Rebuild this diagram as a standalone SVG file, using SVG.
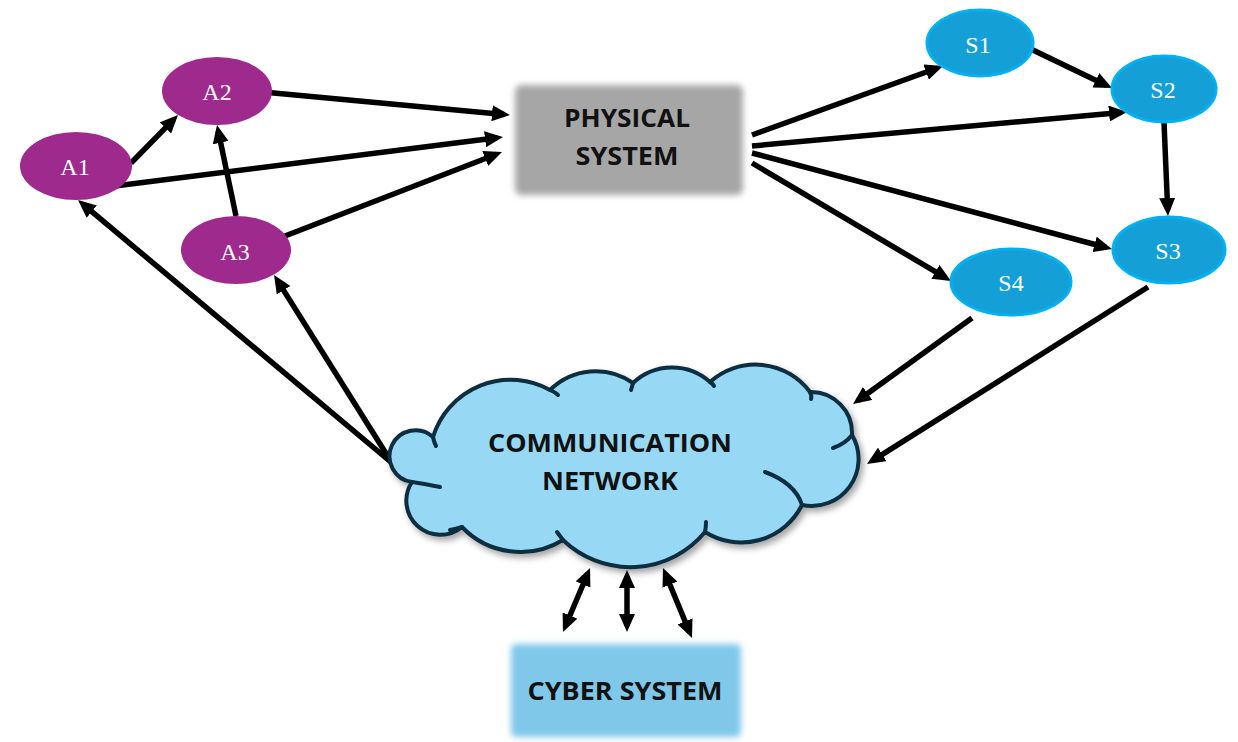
<svg xmlns="http://www.w3.org/2000/svg" width="1238" height="742" viewBox="0 0 1238 742">
  <style>
    .a-node { fill: #9E2A8E; }
    .s-node { fill: #14A0D6; stroke: #00B0F0; stroke-width: 3; }
    .node-label { font-family: "Liberation Serif", "Times New Roman", serif; font-size: 24px; fill: #ffffff; text-anchor: middle; }
    .box-label { font-family: "Open Sans", "Liberation Sans", sans-serif; font-weight: bold; font-size: 25px; fill: #111111; text-anchor: middle; }
    .edge { stroke: #000000; stroke-width: 5.5; fill: none; marker-end: url(#arrow); }
    .edge2 { stroke: #000000; stroke-width: 5.5; fill: none; marker-end: url(#arrow); marker-start: url(#arrow); }
    .cloud-line { fill: none; stroke: #0D2E40; stroke-width: 4; stroke-linecap: round; }
  </style>
  <defs>
    <marker id="arrow" markerUnits="userSpaceOnUse" markerWidth="18" markerHeight="16" refX="12" refY="8" orient="auto-start-reverse">
      <path d="M0,0 L18,8 L0,16 z" fill="#000000"/>
    </marker>
    <filter id="soft" x="-10%" y="-20%" width="120%" height="140%">
      <feGaussianBlur stdDeviation="3"/>
    </filter>
    <filter id="shadow" x="-10%" y="-10%" width="120%" height="130%">
      <feDropShadow dx="3" dy="4" stdDeviation="3" flood-color="#000000" flood-opacity="0.35"/>
    </filter>
  </defs>

  <rect width="1238" height="742" fill="#ffffff"/>

  <!-- connectors -->
  <g id="connectors">
    <line class="edge" x1="131" y1="163" x2="173.8" y2="119.3"/>
    <line class="edge" x1="91" y1="189" x2="497" y2="137.8"/>
    <line class="edge" x1="236" y1="216" x2="218.2" y2="130.9"/>
    <line class="edge" x1="263" y1="92" x2="504" y2="114.4"/>
    <line class="edge" x1="272" y1="241" x2="496.4" y2="154.2"/>
    <line class="edge" x1="392" y1="463" x2="82.6" y2="203.9"/>
    <line class="edge" x1="392" y1="463" x2="277.2" y2="280.1"/>
    <line class="edge" x1="752" y1="135" x2="937.4" y2="68"/>
    <line class="edge" x1="752" y1="146" x2="1121" y2="112.5"/>
    <line class="edge" x1="1008" y1="38" x2="1106.6" y2="85.4"/>
    <line class="edge" x1="1164" y1="122" x2="1167.7" y2="210"/>
    <line class="edge" x1="752" y1="153" x2="1106.2" y2="247.5"/>
    <line class="edge" x1="752" y1="163" x2="945.8" y2="277.9"/>
    <line class="edge" x1="972" y1="318" x2="857.9" y2="400.5"/>
    <line class="edge" x1="1148" y1="287" x2="872.1" y2="460.8"/>
    <line class="edge2" x1="587.7" y1="573.5" x2="565.3" y2="626.5"/>
    <line class="edge2" x1="627" y1="576" x2="627" y2="626"/>
    <line class="edge2" x1="665.3" y1="573.5" x2="689.7" y2="632.5"/>
  </g>

  <!-- actuators -->
  <g id="A1">
    <ellipse class="a-node" cx="76" cy="166" rx="56" ry="34"/>
    <text class="node-label" x="75" y="175">A1</text>
  </g>
  <g id="A2">
    <ellipse class="a-node" cx="217" cy="91" rx="55" ry="34"/>
    <text class="node-label" x="217" y="100">A2</text>
  </g>
  <g id="A3">
    <ellipse class="a-node" cx="236" cy="250" rx="55" ry="34"/>
    <text class="node-label" x="235" y="260">A3</text>
  </g>

  <!-- sensors -->
  <g id="S1">
    <ellipse class="s-node" cx="980" cy="43" rx="53" ry="33"/>
    <text class="node-label" x="978" y="53">S1</text>
  </g>
  <g id="S2">
    <ellipse class="s-node" cx="1164" cy="89" rx="52" ry="33"/>
    <text class="node-label" x="1163" y="98">S2</text>
  </g>
  <g id="S3">
    <ellipse class="s-node" cx="1169" cy="250" rx="56" ry="33"/>
    <text class="node-label" x="1168" y="259">S3</text>
  </g>
  <g id="S4">
    <ellipse class="s-node" cx="1011" cy="282" rx="60" ry="33"/>
    <text class="node-label" x="1011" y="291">S4</text>
  </g>

  <!-- physical system -->
  <g id="physical-system">
    <rect x="515" y="85" width="228" height="110" rx="6" fill="#A6A6A6" filter="url(#soft)"/>
    <text class="box-label" x="627" y="127" textLength="126" lengthAdjust="spacingAndGlyphs">PHYSICAL</text>
    <text class="box-label" x="627" y="165" textLength="103" lengthAdjust="spacingAndGlyphs">SYSTEM</text>
  </g>

  <!-- communication network cloud -->
  <g id="communication-network">
    <path filter="url(#shadow)" fill="#97D9F5" stroke="#0D2E40" stroke-width="4" stroke-linejoin="round"
      d="M433,437
         A81,81 0 0 1 550,390
         A65,65 0 0 1 633,383
         A57,57 0 0 1 710,382
         A68,68 0 0 1 810,392
         A41,41 0 0 1 852,435
         A47,47 0 0 1 802,505
         A68,68 0 0 1 705,532
         A97,97 0 0 1 563,540
         A81,81 0 0 1 462,527
         A34,34 0 0 1 412,482
         A26,26 0 1 1 433,437 Z"/>
    <path class="cloud-line" d="M433,437 Q434,442 436,446"/>
    <path class="cloud-line" d="M550,390 Q555,392 558,395"/>
    <path class="cloud-line" d="M633,383 Q632,387 631,390"/>
    <path class="cloud-line" d="M710,382 Q713,384 714,386"/>
    <path class="cloud-line" d="M810,392 Q812,396 811,399"/>
    <path class="cloud-line" d="M852,435 Q845,444 833,448"/>
    <path class="cloud-line" d="M765,472 Q795,483 802,505"/>
    <path class="cloud-line" d="M705,532 Q706,527 706,522"/>
    <path class="cloud-line" d="M563,540 Q560,536 557,532"/>
    <path class="cloud-line" d="M462,527 Q456,529 450,530"/>
    <path class="cloud-line" d="M412,482 Q426,484 440,487"/>
    <text class="box-label" x="610" y="452" textLength="244" lengthAdjust="spacingAndGlyphs">COMMUNICATION</text>
    <text class="box-label" x="610" y="490" textLength="136" lengthAdjust="spacingAndGlyphs">NETWORK</text>
  </g>

  <!-- cyber system -->
  <g id="cyber-system">
    <rect x="511" y="644" width="230" height="93" rx="5" fill="#7FC8EA" filter="url(#soft)"/>
    <text class="box-label" x="625" y="700" textLength="195" lengthAdjust="spacingAndGlyphs">CYBER SYSTEM</text>
  </g>
</svg>
